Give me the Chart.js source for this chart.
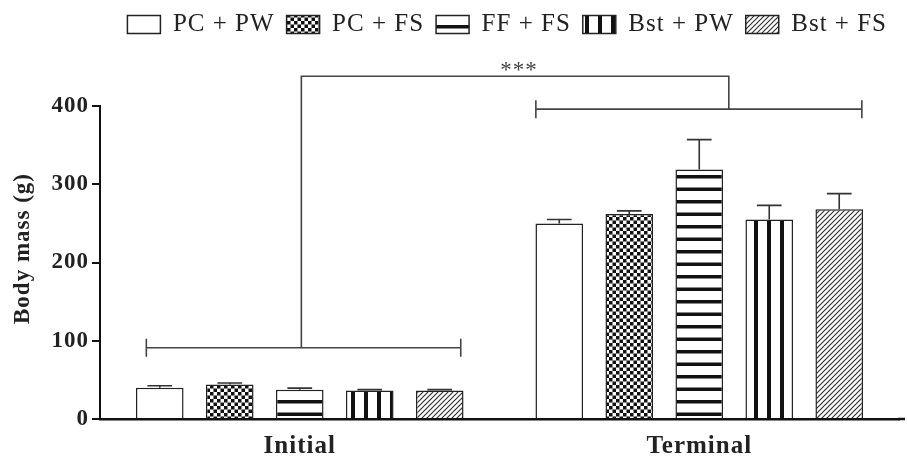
<!DOCTYPE html>
<html lang="en">
  <head>
    <meta charset="UTF-8" />
    <title>Body mass</title>
    <style>
      body {
        margin: 0;
        padding: 0;
        background-color: #fff;
      }
      #wrap {
        width: 907px;
        height: 461px;
      }
    </style>
  </head>
  <body>
    <div id="wrap">
      <canvas id="myChart" width="907" height="461"></canvas>
    </div>
    <script src="https://cdn.jsdelivr.net/npm/chart.js"></script>
    <script>
      const categories = ["Initial", "Terminal"];
      const groups = ["PC + PW", "PC + FS", "FF + FS", "Bst + PW", "Bst + FS"];

      // mean body mass (g) and upper error (SEM) per group
      const meanPcPw = [40, 250];
      const errPcPw = [2.5, 5];
      const meanPcFs = [44, 262];
      const errPcFs = [2, 4];
      const meanFfFs = [37.5, 319];
      const errFfFs = [2, 38];
      const meanBstPw = [36.5, 255];
      const errBstPw = [1, 18];
      const meanBstFs = [36.5, 268];
      const errBstFs = [1, 20];

      const yTicks = [0, 100, 200, 300, 400];
      const yTitle = "Body mass (g)";
      const sigLabel = "***";

      const serif = "'Liberation Serif', 'Times New Roman', serif";

      function makePattern(w, h, draw) {
        const c = document.createElement("canvas");
        c.width = w;
        c.height = h;
        const g = c.getContext("2d");
        g.fillStyle = "#fff";
        g.fillRect(0, 0, w, h);
        draw(g);
        return g.createPattern(c, "repeat");
      }

      const plainFill = "#fff";
      const checkFill = makePattern(7, 7, (g) => {
        g.fillStyle = "#111";
        g.fillRect(0, 0, 3.5, 3.5);
        g.fillRect(3.5, 3.5, 3.5, 3.5);
      });
      const hStripeFill = makePattern(25, 25, (g) => {
        g.fillStyle = "#111";
        g.fillRect(0, 0, 25, 3.5);
        g.fillRect(0, 12.5, 25, 3.5);
      });
      const vStripeFill = makePattern(13, 13, (g) => {
        g.fillStyle = "#111";
        g.fillRect(0, 0, 4, 13);
      });
      const hatchFill = makePattern(5, 5, (g) => {
        g.strokeStyle = "#333";
        g.lineWidth = 1.2;
        g.beginPath();
        g.moveTo(-1, 6);
        g.lineTo(6, -1);
        g.moveTo(-4, 4);
        g.lineTo(4, -4);
        g.moveTo(1, 9);
        g.lineTo(9, 1);
        g.stroke();
      });

      const means = [meanPcPw, meanPcFs, meanFfFs, meanBstPw, meanBstFs];
      const errs = [errPcPw, errPcFs, errFfFs, errBstPw, errBstFs];
      const fills = [plainFill, checkFill, hStripeFill, vStripeFill, hatchFill];

      const datasets = groups.map((name, i) => ({
        label: name,
        data: means[i],
        errors: errs[i],
        backgroundColor: fills[i],
        borderColor: "#222",
        borderWidth: 1.5,
        barPercentage: 0.68,
        categoryPercentage: 0.876,
      }));

      // push the plot down below the legend
      const legendSpace = {
        id: "legendSpace",
        beforeInit(chart) {
          const fitValue = chart.legend.fit;
          chart.legend.fit = function () {
            fitValue.bind(chart.legend)();
            this.height += 59;
          };
        },
      };

      // the source lettering is a little wide, so space it out
      const wideText = {
        id: "wideText",
        beforeLayout(chart) {
          chart.ctx.letterSpacing = "1px";
        },
        beforeDraw(chart) {
          chart.ctx.letterSpacing = "1px";
        },
      };

      const errorBars = {
        id: "errorBars",
        afterDatasetsDraw(chart) {
          const ctx = chart.ctx;
          const y = chart.scales.y;
          ctx.save();
          ctx.strokeStyle = "#333";
          ctx.lineWidth = 1.6;
          chart.data.datasets.forEach((ds, i) => {
            chart.getDatasetMeta(i).data.forEach((bar, j) => {
              const top = y.getPixelForValue(ds.data[j] + ds.errors[j]);
              const half = bar.width * 0.26;
              ctx.beginPath();
              ctx.moveTo(bar.x, bar.y);
              ctx.lineTo(bar.x, top);
              ctx.moveTo(bar.x - half, top);
              ctx.lineTo(bar.x + half, top);
              ctx.stroke();
            });
          });
          ctx.restore();
        },
      };

      const brackets = {
        id: "brackets",
        afterDraw(chart) {
          const ctx = chart.ctx;
          const x = chart.scales.x;
          const y = chart.scales.y;
          const catW = (x.right - x.left) / categories.length;
          const c0 = x.getPixelForValue(0);
          const c1 = x.getPixelForValue(1);
          const yInit = y.getPixelForValue(91);
          const yTerm = y.getPixelForValue(396);
          const yTop = y.getPixelForValue(438);
          const xRise = c0 + catW * 0.004;
          const xDrop = c1 + catW * 0.074;
          const iL = c0 - catW * 0.384;
          const iR = c0 + catW * 0.403;
          const tL = c1 - catW * 0.409;
          const tR = c1 + catW * 0.407;
          ctx.save();
          // x axis runs on to the edge of the figure
          ctx.strokeStyle = "#111";
          ctx.lineWidth = 2.5;
          ctx.beginPath();
          ctx.moveTo(x.right - 1, x.top);
          ctx.lineTo(chart.width - 2, x.top);
          ctx.stroke();

          ctx.strokeStyle = "#444";
          ctx.lineWidth = 1.6;
          ctx.beginPath();
          ctx.moveTo(iL, yInit);
          ctx.lineTo(iR, yInit);
          ctx.moveTo(iL, yInit - 9);
          ctx.lineTo(iL, yInit + 9);
          ctx.moveTo(iR, yInit - 9);
          ctx.lineTo(iR, yInit + 9);
          ctx.moveTo(tL, yTerm);
          ctx.lineTo(tR, yTerm);
          ctx.moveTo(tL, yTerm - 9);
          ctx.lineTo(tL, yTerm + 9);
          ctx.moveTo(tR, yTerm - 9);
          ctx.lineTo(tR, yTerm + 9);
          ctx.moveTo(xRise, yInit);
          ctx.lineTo(xRise, yTop);
          ctx.lineTo(xDrop, yTop);
          ctx.lineTo(xDrop, yTerm);
          ctx.stroke();
          ctx.fillStyle = "#444";
          ctx.font = "23px " + serif;
          ctx.textAlign = "center";
          ctx.textBaseline = "alphabetic";
          ctx.fillText(sigLabel, (xRise + xDrop) / 2 + 4, yTop + 1);

          // y title sits a little above the middle of the axis
          ctx.fillStyle = "#222";
          ctx.font = "bold 23px " + serif;
          ctx.translate(23, (y.top + y.bottom) / 2 - 14);
          ctx.rotate(-Math.PI / 2);
          ctx.textBaseline = "middle";
          ctx.fillText(yTitle, 0, 0);
          ctx.restore();
        },
      };

      new Chart(document.getElementById("myChart"), {
        type: "bar",
        data: { labels: categories, datasets: datasets },
        plugins: [wideText, legendSpace, errorBars, brackets],
        options: {
          responsive: false,
          animation: false,
          devicePixelRatio: 1,
          layout: { padding: { top: 0, right: 8, left: 0, bottom: 0 } },
          plugins: {
            tooltip: { enabled: false },
            legend: {
              position: "top",
              align: "end",
              labels: {
                boxWidth: 33,
                boxHeight: 18,
                padding: 12,
                color: "#222",
                font: { family: serif, size: 25 },
              },
            },
          },
          scales: {
            x: {
              grid: { display: false, drawTicks: false },
              border: { display: true, color: "#111", width: 2.5 },
              ticks: {
                color: "#222",
                padding: 13,
                font: { family: serif, size: 25, weight: "bold" },
              },
              afterFit(scale) {
                scale.height = 42;
              },
            },
            y: {
              min: 0,
              max: 400,
              afterBuildTicks(scale) {
                scale.ticks = yTicks.map((v) => ({ value: v }));
              },
              grid: {
                drawOnChartArea: false,
                drawTicks: true,
                tickLength: 8,
                tickColor: "#111",
                lineWidth: 2,
              },
              border: { display: true, color: "#111", width: 2 },
              ticks: {
                color: "#222",
                padding: 3,
                font: { family: serif, size: 23, weight: "bold" },
              },
              title: { display: false },
              afterFit(scale) {
                scale.width = 100;
              },
            },
          },
        },
      });
    </script>
  </body>
</html>
